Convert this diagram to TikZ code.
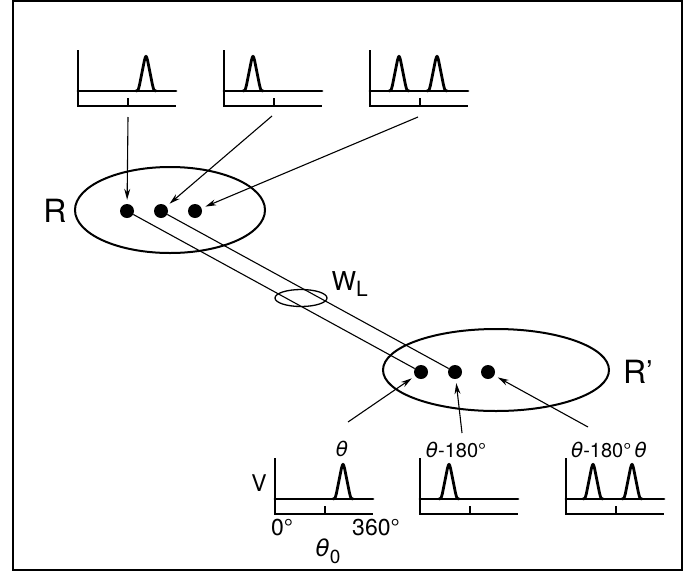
\documentclass[tikz,border=0pt]{standalone}
\usepackage{fontspec}
\setmainfont{TeX Gyre Heros}
\newfontfamily\grk{DejaVu Sans}
\newcommand{\thet}{{\grk\itshape θ}}
\usetikzlibrary{arrows.meta,shapes.geometric}
\tikzset{
  frame/.style={line width=1.5pt},
  axis/.style={line width=1.5pt},
  signal/.style={line width=2.8pt, line join=round, line cap=round},
  ring/.style={draw, ellipse, line width=2pt, inner sep=0pt},
  dot/.style={circle, fill=black, inner sep=0pt, minimum size=14pt},
  link/.style={line width=1.1pt},
  ptr/.style={line width=1.1pt, -{Stealth[length=11pt,width=6pt]}, shorten >=4pt},
  big/.style={font=\fontsize{32}{34}\selectfont},
  mid/.style={font=\fontsize{23}{25}\selectfont},
  small/.style={font=\fontsize{20}{22}\selectfont},
  pics/axes/.style={code={
    \draw[axis] (0,-41) -- (0,15) -- (98,15);
    \draw[axis] (50,7) -- (50,15);
    \draw[signal] (0,0) -- (98,0);
  }},
  pics/peak/.style={code={
    \draw[signal] (-10,0) .. controls (-8,0) .. (-6.5,-6) -- (-1.5,-31) .. controls (0,-36) .. (1.5,-31) -- (6.5,-6) .. controls (8,0) .. (10,0);
  }}
}
\begin{document}
\begin{tikzpicture}[x=1pt,y=-1pt]
\useasboundingbox (0,0) rectangle (684,573);
\draw[frame] (13,1) rectangle (682,570);

% top plots
\pic at (78,91) {axes};   \pic at (146,91) {peak};
\pic at (224,91) {axes};  \pic at (253,91) {peak};
\pic at (370,91) {axes};  \pic at (399,91) {peak}; \pic at (437,91) {peak};

% bottom plots
\pic at (275,499) {axes}; \pic at (343,499) {peak};
\pic at (420,499) {axes}; \pic at (449,499) {peak};
\pic at (566,499) {axes}; \pic at (593,499) {peak}; \pic at (632,499) {peak};

% regions
\node[ring, minimum width=190pt, minimum height=86pt] (R) at (170,210) {};
\node[ring, minimum width=226pt, minimum height=82pt] (Rp) at (496,370) {};
\node[ring, line width=1.3pt, minimum width=52pt, minimum height=17pt] (W) at (301,298) {};

\node[dot] (r1) at (127,211) {};
\node[dot] (r2) at (161,211) {};
\node[dot] (r3) at (195,211) {};
\node[dot] (s1) at (421,372) {};
\node[dot] (s2) at (455,372) {};
\node[dot] (s3) at (488,372) {};

\draw[link] (r1) -- (s1);
\draw[link] (r2) -- (s2);

% arrow tails
\coordinate (t1) at (128,117);
\coordinate (t2) at (272,116);
\coordinate (t3) at (418,117);
\coordinate (b1) at (348,422);
\coordinate (b2) at (462,433);
\coordinate (b3) at (588,427);

\draw[ptr] (t1) -- (r1);
\draw[ptr] (t2) -- (r2);
\draw[ptr] (t3) -- (r3);
\draw[ptr] (b1) -- (s1);
\draw[ptr] (b2) -- (s2);
\draw[ptr] (b3) -- (s3);

% labels
\node[big] (lR) at (55,211) {R};
\node[big] (lRp) at (638,372) {R\raisebox{0.1ex}{\fontsize{30}{30}\selectfont ’}};
\node[font=\fontsize{26}{28}\selectfont, anchor=west] (lW) at (328,284) {W\raisebox{-0.45ex}{\fontsize{21}{21}\selectfont L}};
\node[small] (l1) at (342,449) {\thet};
\node[small] (l2) at (456,450) {\thet-180°};
\node[small] (l3) at (609,450) {\thet-180°\,\thet};
\node[mid] (lV) at (259,483) {V};
\node[mid] (l0) at (282,528) {0°};
\node[mid] (l360) at (376,528) {360°};
\node[mid] (lth) at (328,551) {\thet\raisebox{-0.6ex}{\fontsize{19}{19}\selectfont 0}};
\end{tikzpicture}
\end{document}
